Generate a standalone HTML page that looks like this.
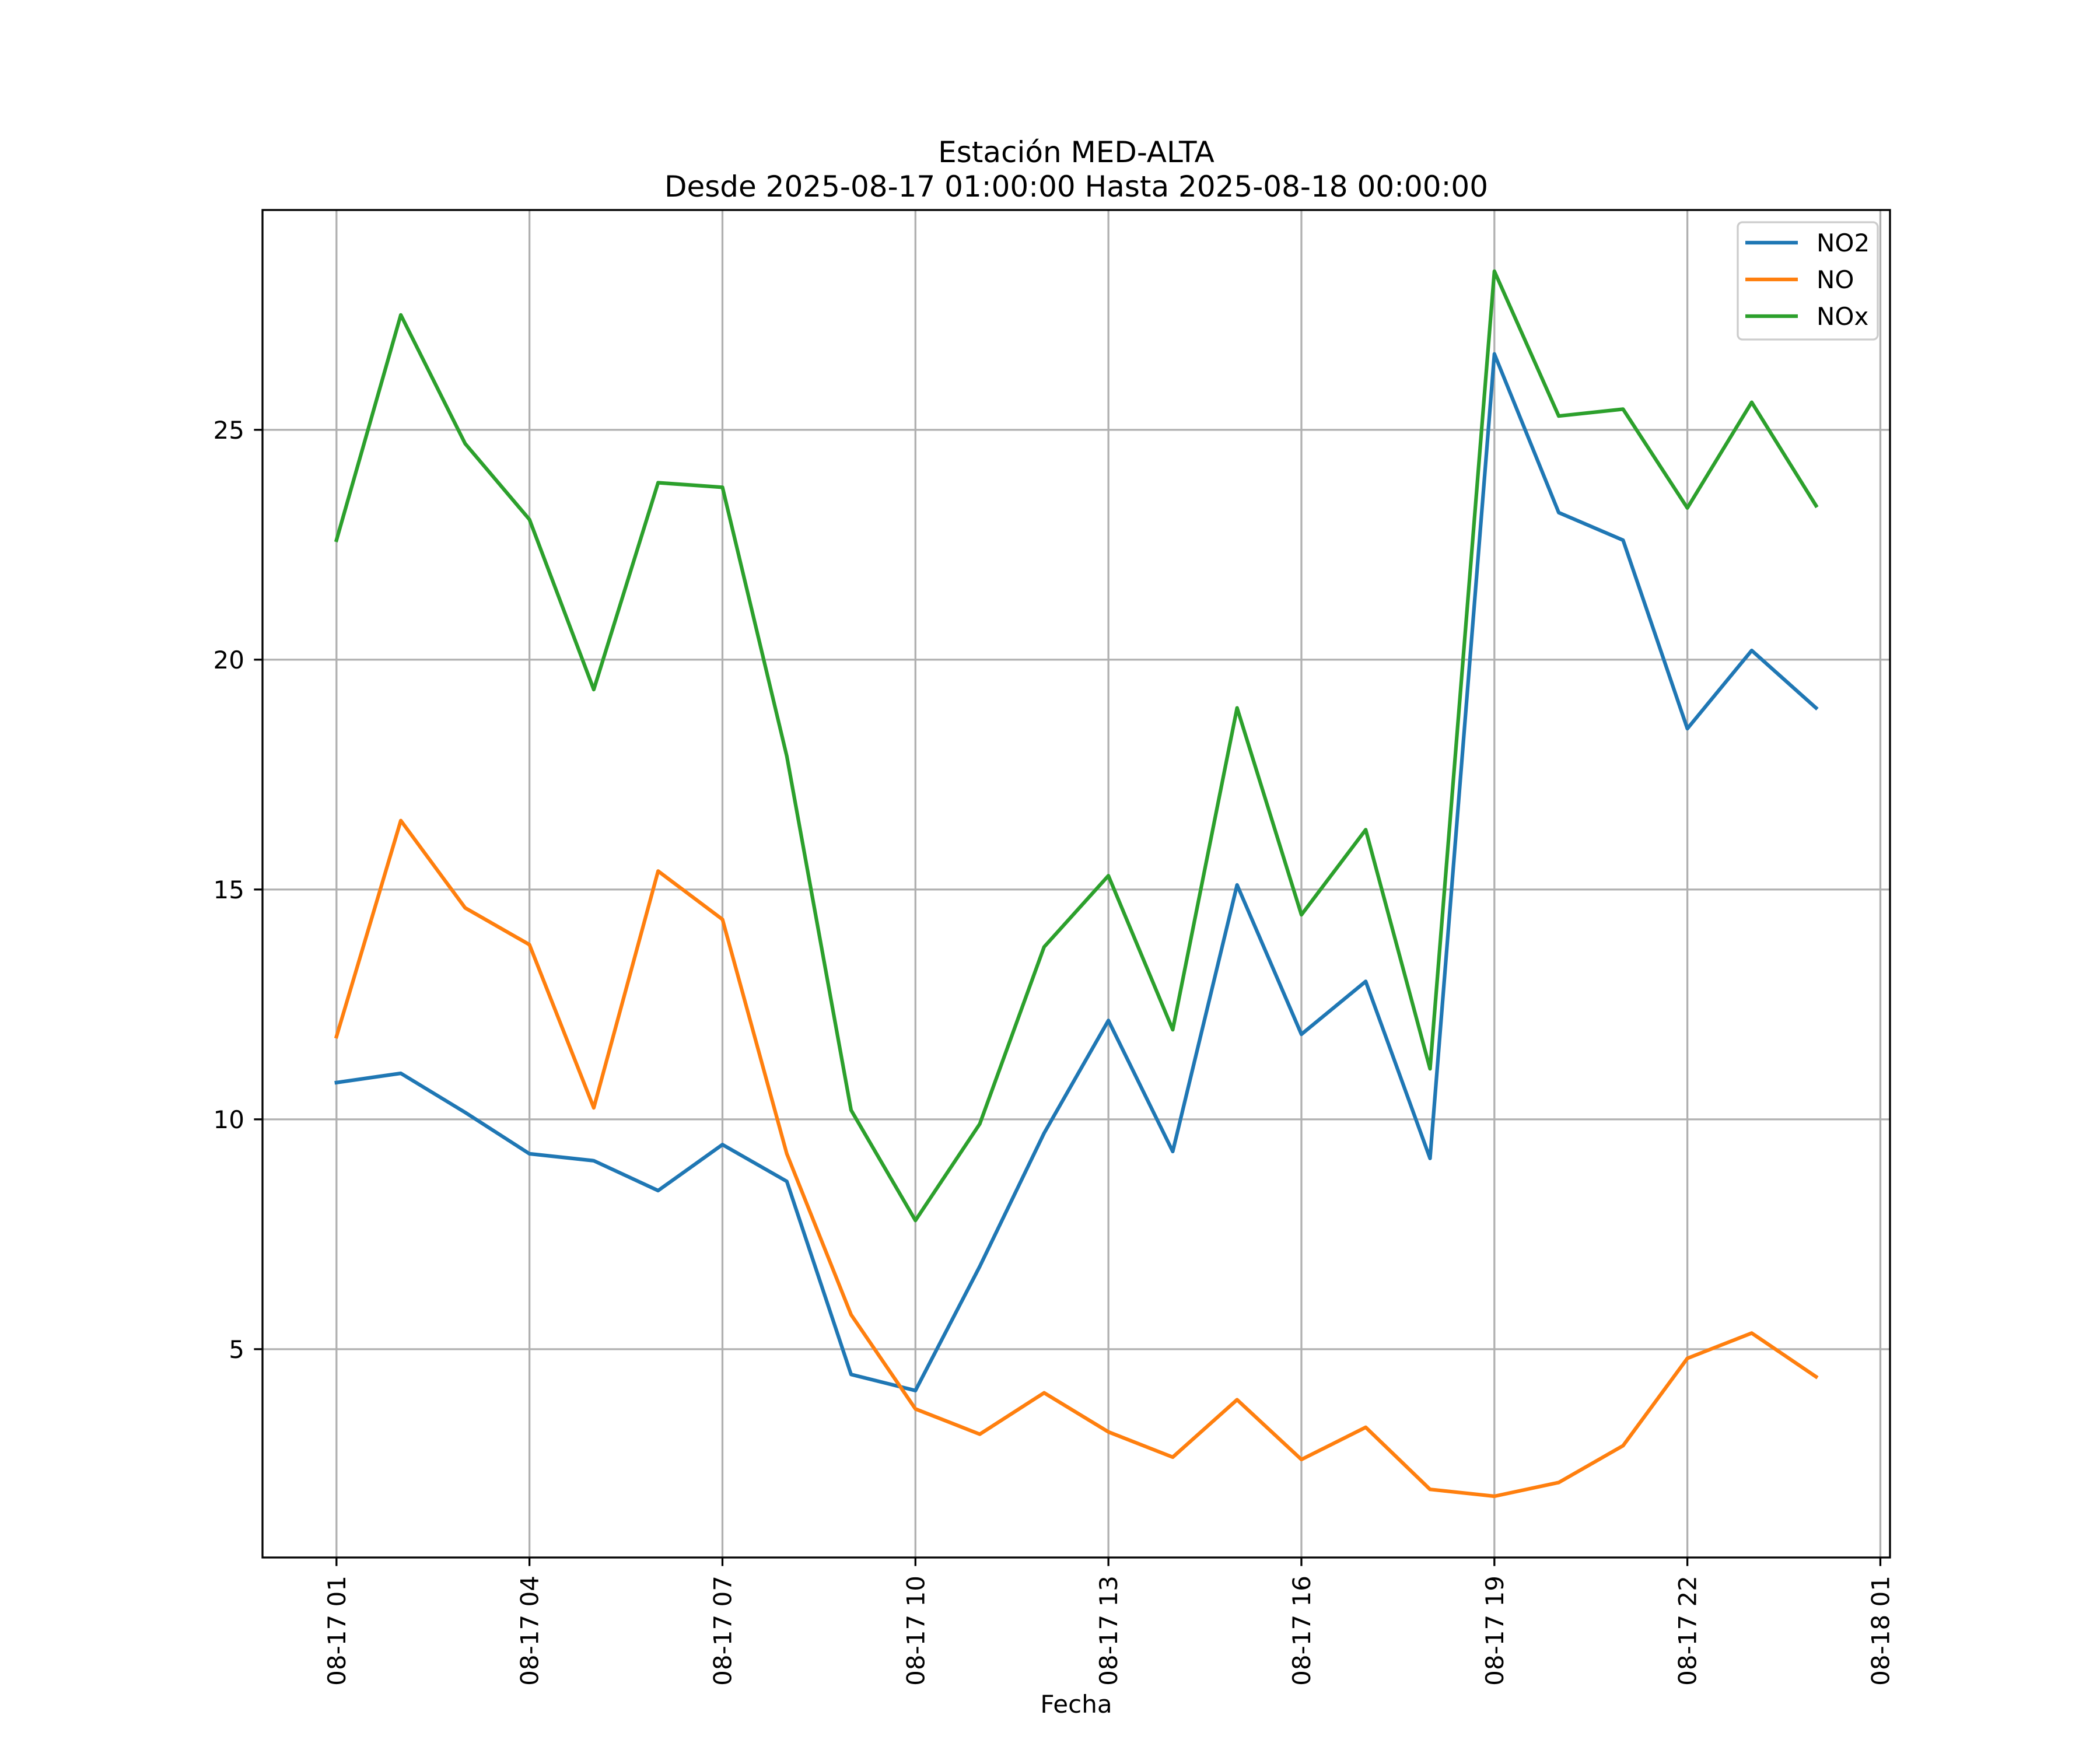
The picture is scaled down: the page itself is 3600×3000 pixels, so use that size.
<!DOCTYPE html>
<html><head><meta charset="utf-8"><style>
html,body{margin:0;padding:0;background:#fff;}
svg{display:block;font-family:"DejaVu Sans","Liberation Sans",sans-serif;}
</style></head><body>
<svg id="chart" width="3600" height="3000" viewBox="0 0 3600 3000" xmlns="http://www.w3.org/2000/svg">
<rect width="3600" height="3000" fill="#fff"/>
<text x="1845" y="278" font-size="50" text-anchor="middle">Estación MED-ALTA</text>
<text x="1845" y="337" font-size="50" text-anchor="middle">Desde 2025-08-17 01:00:00 Hasta 2025-08-18 00:00:00</text>
<text x="1845" y="2936" font-size="42" text-anchor="middle">Fecha</text>
<g id="grid"></g><g id="series"></g><g id="axes"></g><g id="legend"></g>
</svg>
<script>
const hours = [1,2,3,4,5,6,7,8,9,10,11,12,13,14,15,16,17,18,19,20,21,22,23,24];
const no2 = [10.8,11.0,10.15,9.25,9.1,8.45,9.45,8.65,4.45,4.1,6.8,9.7,12.15,9.3,15.1,11.85,13.0,9.15,26.65,23.2,22.6,18.5,20.2,18.95];
const no = [11.8,16.5,14.6,13.8,10.25,15.4,14.35,9.25,5.75,3.7,3.15,4.05,3.2,2.65,3.9,2.6,3.3,1.95,1.8,2.1,2.9,4.8,5.35,4.4];
const nox = [22.6,27.5,24.7,23.05,19.35,23.85,23.75,17.9,10.2,7.8,9.9,13.75,15.3,11.95,18.95,14.45,16.3,11.1,28.45,25.3,25.45,23.3,25.6,23.35];
const xTicks = [1,4,7,10,13,16,19,22,25];
const xTickLabels = ["08-17 01","08-17 04","08-17 07","08-17 10","08-17 13","08-17 16","08-17 19","08-17 22","08-18 01"];
const yTicks = [5,10,15,20,25];
const seriesNames = ["NO2","NO","NOx"];
const seriesColors = ["#1f77b4","#ff7f0e","#2ca02c"];

const NS="http://www.w3.org/2000/svg";
const L=450,R=3240,T=360,B=2670;
const all=no2.concat(no,nox);
const dmin=Math.min(...all),dmax=Math.max(...all),pad=(dmax-dmin)*0.05;
const y0=dmin-pad,y1=dmax+pad;
const h0=hours[0],h1=hours[hours.length-1],hp=(h1-h0)*0.05;
const xs=h=>L+(R-L)*(h-(h0-hp))/((h1+hp)-(h0-hp));
const ys=v=>B-(B-T)*(v-y0)/(y1-y0);
function mk(tag,attrs,parent){const e=document.createElementNS(NS,tag);for(const k in attrs)e.setAttribute(k,attrs[k]);parent.appendChild(e);return e;}
const grid=document.getElementById('grid'),axes=document.getElementById('axes'),ser=document.getElementById('series'),leg=document.getElementById('legend');
xTicks.forEach((t,i)=>{const x=xs(t);
 const g=mk('line',{x1:x,x2:x,y1:T,y2:B,stroke:'#b0b0b0','stroke-width':3.3},grid);
 
 
 const tk=mk('line',{x1:x,x2:x,y1:B,y2:B+14.6,stroke:'#000','stroke-width':3.3},axes);
 
 
 const tx=mk('text',{x:0,y:0,'font-size':42,'text-anchor':'end',transform:`translate(${x+15},${B+31}) rotate(-90)`},axes);
 tx.textContent=xTickLabels[i];
 
 
});
yTicks.forEach(t=>{const y=ys(t);
 const g=mk('line',{x1:L,x2:R,y1:y,y2:y,stroke:'#b0b0b0','stroke-width':3.3},grid);
 
 
 const tk=mk('line',{x1:L-14.6,x2:L,y1:y,y2:y,stroke:'#000','stroke-width':3.3},axes);
 
 
 const tx=mk('text',{x:L-31,y:y+15,'font-size':42,'text-anchor':'end'},axes);
 tx.textContent=String(t);
 
 
});
[no2,no,nox].forEach((d,si)=>{
 const pts=d.map((v,i)=>xs(hours[i]).toFixed(1)+','+ys(v).toFixed(1)).join(' ');
 const p=mk('polyline',{points:pts,fill:'none',stroke:seriesColors[si],'stroke-width':6.25,'stroke-linejoin':'round','stroke-linecap':'square'},ser);
 
 
});
const fr=mk('rect',{x:L,y:T,width:R-L,height:B-T,fill:'none',stroke:'#000','stroke-width':3.3},axes);


const lb=mk('rect',{x:2979,y:381,width:240,height:201,rx:8,fill:'#fff','fill-opacity':0.8,stroke:'#cccccc','stroke-width':3.3},leg);


seriesNames.forEach((n,i)=>{const y=416+i*63;
 const ln=mk('line',{x1:2992,x2:3082,y1:y,y2:y,stroke:seriesColors[i],'stroke-width':6.25},leg);
 
 
 const t=mk('text',{x:3114,y:y+15,'font-size':42},leg);
 t.textContent=n;
 
 
});
</script>
</body></html>
